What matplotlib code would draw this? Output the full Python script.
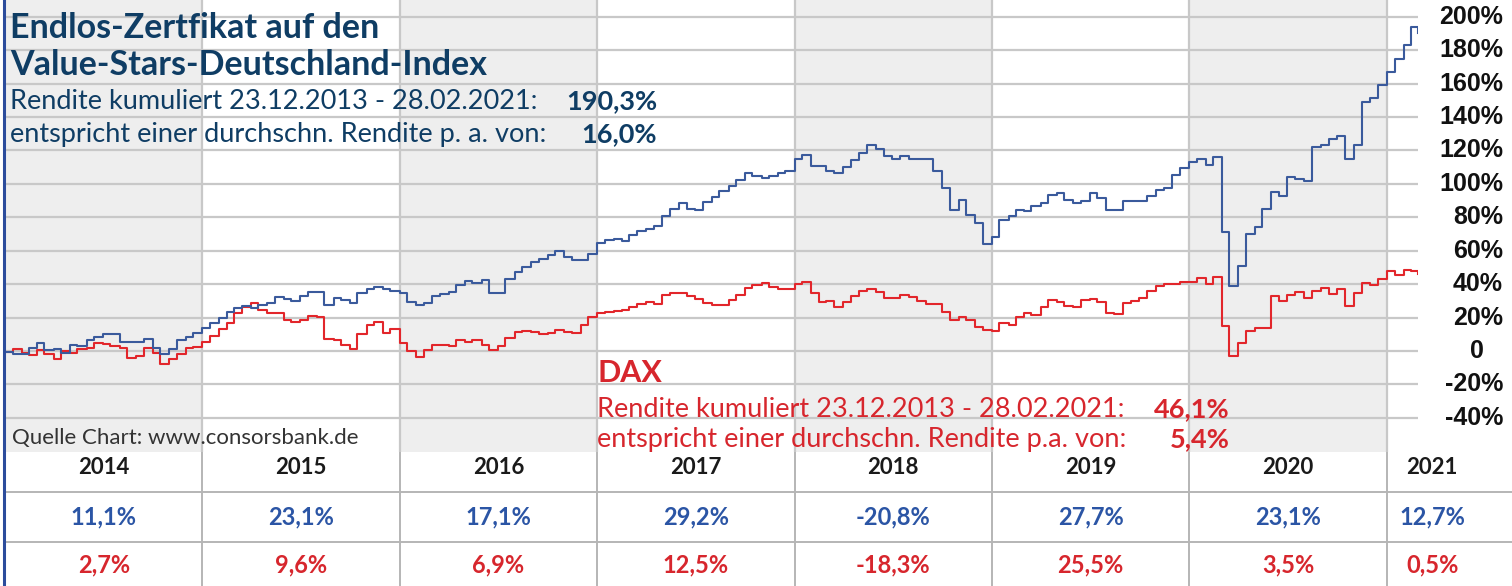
import pandas as pd
import matplotlib.pyplot as plt
from matplotlib.lines import Line2D
import matplotlib.transforms as mtransforms

# half-monthly readings (1st and 15th), cumulative return in % since 23.12.2013
value_stars = [
    -0.4, -2, -2, 1.6, 4.6, 0.8, 1, -1, 3.6, 3, 6.6, 8.2, 10, 10, 5.5, 5.6, 5.6, 7.4, 2, -1.8, 1, 6.6, 8.2, 10.6,
    13.6, 16.6, 20, 23.6, 25.6, 27, 26, 27.6, 29, 32.2, 31, 30.2, 33, 35.6, 35.6, 27.6, 31.6, 30.6, 29, 34.6, 37, 38.6, 37, 36.2,
    34.6, 29.6, 27.6, 28.6, 33.2, 34.2, 35.6, 39.6, 41.6, 40.6, 42.2, 35, 35, 43, 47, 50, 53, 55, 57.4, 59.6, 56.2, 54.2, 54.2, 58.2,
    64.6, 66.6, 67, 66, 69.6, 72, 73, 74.6, 81, 85, 88.6, 85, 84.6, 89, 92, 95.6, 98.6, 102.2, 106.6, 105, 103.6, 105, 106.6, 107.6,
    114.6, 117, 110.6, 110.6, 107.6, 106.6, 110.2, 114.2, 118.6, 123, 121, 116.6, 114.6, 116.6, 114.6, 114.6, 114.6, 107.6, 97.6, 84.6, 90.2, 81.6, 76.6, 64,
    68, 78.6, 80.6, 84.2, 83.6, 87, 88.6, 93.6, 94.6, 90.6, 88.6, 90, 94.6, 91.6, 84.6, 84.6, 90, 89.6, 89.6, 92.6, 96.2, 97.6, 105.6, 109.6,
    113, 115, 111, 116, 71, 39, 51, 70, 74, 85, 95, 93, 104, 103, 102, 122, 123, 127, 128.6, 115, 123, 149, 151.4, 159,
    167, 175, 183, 194,
    190.3,
]
dax = [
    -0.4, 1.5, -1, -2.4, 0.5, -2, -4.5, 0, -1, 1, 1.6, 5, 4.5, 3, 1.6, -4.4, -3, 2, -1, -7.8, -5, -2, 2, 2.5,
    5.6, 9, 13, 16.6, 22.6, 26.6, 28.6, 24.6, 23, 22.6, 18.6, 17.6, 18.6, 21, 20.2, 7, 6.6, 3.6, 1, 10, 15.6, 17.6, 11, 13,
    4.6, 0.2, -3.4, 0.6, 3.6, 3.6, 3, 6.6, 5.2, 6.6, 3.6, 0.6, 3, 7.6, 11.6, 12, 11.6, 10.2, 10.6, 12.6, 11.2, 11, 15.6, 20.6,
    22.6, 23.4, 24, 24.6, 26.6, 28.2, 29.6, 28.2, 33.6, 34.6, 35, 33.2, 31, 29, 27.6, 27.6, 30.6, 33.6, 37.6, 39.6, 41, 38.2, 37.2, 37.4,
    40.2, 41.2, 34.6, 29.6, 30.2, 26.6, 29.6, 33, 36.2, 37, 35.6, 31.6, 31.6, 33.6, 32.2, 30.2, 28.2, 28.2, 23.6, 18.6, 20.6, 18.6, 14.6, 12.6,
    11.8, 16.6, 15.6, 20.6, 22.6, 21.6, 26.6, 30.6, 29.6, 27, 26.6, 30.6, 31, 29.6, 23, 22.2, 29, 30.2, 31.6, 36, 39, 40, 40.2, 41.4,
    41.4, 43.4, 40, 44, 15, -3, 5, 12, 14, 14, 33, 30, 33.4, 35.4, 32, 36, 38, 34, 37.4, 27, 35, 40.6, 39.4, 43,
    48, 45.4, 48.6, 48,
    46.1,
]

dates = list(pd.date_range("2014-01-01", periods=172, freq="SMS")) + [pd.Timestamp("2021-02-28")]
x = [2014 + (d - pd.Timestamp("2014-01-01")).days / 365.25 for d in dates]

years = [2014, 2015, 2016, 2017, 2018, 2019, 2020, 2021]
vs_year = ["11,1%", "23,1%", "17,1%", "29,2%", "-20,8%", "27,7%", "23,1%", "12,7%"]
dax_year = ["2,7%", "9,6%", "6,9%", "12,5%", "-18,3%", "25,5%", "3,5%", "0,5%"]
y_ticks = [-40, -20, 0, 20, 40, 60, 80, 100, 120, 140, 160, 180, 200]

navy = "#0f3d64"
red_txt = "#d7262d"
blue_line = "#3a5a9c"
red_line = "#e2262b"
grid_c = "#c8c8c8"

W, H = 1512, 586
fig = plt.figure(figsize=(W / 100, H / 100), dpi=100)
fig.patch.set_facecolor("white")


def fx(px):
    return px / W


def fy(py):
    return 1 - py / H


# main chart
ax = fig.add_axes([fx(5), fy(452), 1413 / W, 452 / H])
ax.set_xlim(2014, 2014 + 1413 / 197.4)
ax.set_ylim(-60.4, 210)
for yr in years[::2]:
    ax.axvspan(yr, yr + 1, color="#eeeeee", lw=0, zorder=0)
for yr in years[1:]:
    ax.axvline(yr, color=grid_c, lw=1.6, zorder=1)
for t in y_ticks:
    ax.axhline(t, color=grid_c, lw=1.6, zorder=1)
ax.step(x, dax, where="post", color=red_line, lw=1.5, zorder=3)
ax.step(x, value_stars, where="post", color=blue_line, lw=1.5, zorder=4)
ax.set_xticks([])
ax.set_yticks([])
for s in ax.spines.values():
    s.set_visible(False)

# right-hand percentage labels
trans = mtransforms.blended_transform_factory(ax.transAxes, ax.transData)
for t in y_ticks:
    lab = "0" if t == 0 else f"{t}%"
    xr = (1484 - 5) / 1413 if t == 0 else (1503 - 5) / 1413
    ax.text(xr, t, lab, transform=trans, ha="right", va="center", fontsize=18,
            fontweight="bold", family="Liberation Sans", color="#111111", clip_on=False)

# table below chart
tab = fig.add_axes([fx(5), 0, 1507 / W, 134 / H])
tab.set_xlim(2014, 2014 + 1507 / 197.4)
tab.set_ylim(134, 0)
tab.axis("off")
for yr in years[1:]:
    tab.axvline(yr, color="#b5b5b5", lw=1.4)
tab.axhline(40, color="#b5b5b5", lw=1.4)
tab.axhline(90, color="#b5b5b5", lw=1.4)
centers = [yr + 0.5 for yr in years[:-1]] + [2021.23]
for c, yr, v1, v2 in zip(centers, years, vs_year, dax_year):
    tab.text(c, 15, str(yr), ha="center", va="center", fontsize=16, fontweight="bold",
             family="Lato", color="#1a1a1a")
    tab.text(c, 65, v1, ha="center", va="center", fontsize=17, fontweight="bold",
             family="Lato", color="#2b55a5")
    tab.text(c, 113, v2, ha="center", va="center", fontsize=17, fontweight="bold",
             family="Lato", color=red_txt)

# left border
fig.add_artist(Line2D([fx(3.5), fx(3.5)], [0, 1], color="#2c4c9c", lw=2.2))

# headline texts
fig.text(fx(10), fy(38), "Endlos-Zertfikat auf den", fontsize=24.5, fontweight="bold",
         color=navy, family="Lato", va="baseline")
fig.text(fx(10), fy(75), "Value-Stars-Deutschland-Index", fontsize=24.5, fontweight="bold",
         color=navy, family="Lato", va="baseline")
fig.text(fx(10), fy(109), "Rendite kumuliert 23.12.2013 - 28.02.2021:", fontsize=19.5,
         color=navy, family="Lato", va="baseline")
fig.text(fx(657), fy(109), "190,3%", fontsize=19.5, fontweight="bold",
         color=navy, family="Lato", va="baseline", ha="right")
fig.text(fx(10), fy(142), "entspricht einer durchschn. Rendite p. a. von:", fontsize=19.5,
         color=navy, family="Lato", va="baseline")
fig.text(fx(657), fy(142), "16,0%", fontsize=19.5, fontweight="bold",
         color=navy, family="Lato", va="baseline", ha="right")

fig.text(fx(597), fy(382), "DAX", fontsize=22, fontweight="bold",
         color=red_txt, family="Lato", va="baseline")
fig.text(fx(597), fy(417), "Rendite kumuliert 23.12.2013 - 28.02.2021:", fontsize=19.5,
         color=red_txt, family="Lato", va="baseline")
fig.text(fx(1230), fy(417), "46,1%", fontsize=19.5, fontweight="bold",
         color=red_txt, family="Lato", va="baseline", ha="right")
fig.text(fx(597), fy(447), "entspricht einer durchschn. Rendite p.a. von:", fontsize=19.5,
         color=red_txt, family="Lato", va="baseline")
fig.text(fx(1230), fy(447), "5,4%", fontsize=19.5, fontweight="bold",
         color=red_txt, family="Lato", va="baseline", ha="right")

fig.text(fx(12), fy(444), "Quelle Chart: www.consorsbank.de", fontsize=16,
         color="#333333", family="Lato", va="baseline")

fig.savefig("out.png", dpi=100)
